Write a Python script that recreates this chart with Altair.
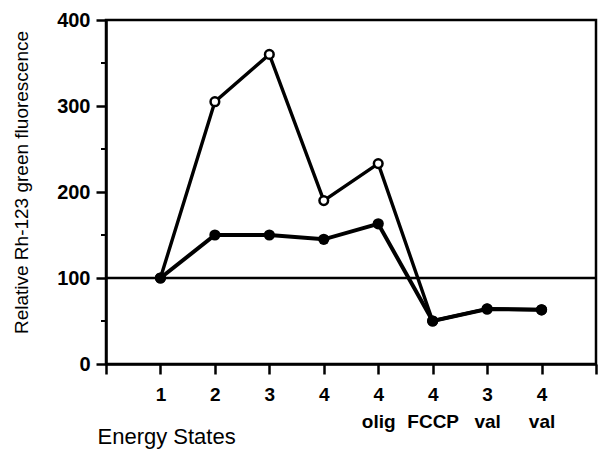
import altair as alt
import pandas as pd

x_pos = [1, 2, 3, 4, 5, 6, 7, 8]
tick_labels = ["1", "2", "3", "4", "4|olig", "4|FCCP", "3|val", "4|val"]
open_vals = [100, 305, 360, 190, 233, 50, 64, 63]
filled_vals = [100, 150, 150, 145, 163, 50, 64, 63]
ref_value = [100]
minor_ticks = [50, 150, 250, 350]

df_open = pd.DataFrame({"x": x_pos, "y": open_vals})
df_filled = pd.DataFrame({"x": x_pos, "y": filled_vals})
df_ref = pd.DataFrame({"y": ref_value})
df_minor = pd.DataFrame({"y": minor_ticks})

FONT = "Liberation Sans"

arr = "[" + ",".join("'" + t + "'" for t in tick_labels) + "]"
label_expr = f"datum.value >= 1 && datum.value <= 8 ? split({arr}[datum.value - 1], '|') : ''"

xscale = alt.Scale(domain=[0, 9], nice=False, zero=False)
yscale = alt.Scale(domain=[0, 400], nice=False)

xaxis = alt.Axis(
    values=list(range(0, 10)),
    labelExpr=label_expr,
    title="Energy States",
    titleFont=FONT, titleFontSize=22, titleFontWeight="normal",
    titleAnchor="start", titleAlign="left", titleBaseline="middle",
    titleX=-9, titleY=72,
    labelFont=FONT, labelFontSize=19, labelFontWeight="bold",
    labelLineHeight=27, labelPadding=11, labelBaseline="top",
    tickSize=10, tickWidth=2.5, tickColor="black",
    domainColor="black", domainWidth=2.5,
    grid=False, labelColor="black", titleColor="black",
)
yaxis = alt.Axis(
    values=[0, 100, 200, 300, 400],
    title="Relative Rh-123 green fluorescence",
    titleFont=FONT, titleFontSize=19, titleFontWeight="normal",
    titleAngle=-90, titleAlign="center", titleBaseline="middle",
    titleX=-85, titleY=162,
    labelFont=FONT, labelFontSize=20, labelFontWeight="bold",
    labelPadding=6,
    tickSize=10, tickWidth=2.5, tickColor="black",
    domainColor="black", domainWidth=2.5,
    grid=False, labelColor="black", titleColor="black",
)

base_x = alt.X("x:Q", scale=xscale, axis=xaxis)
base_y = alt.Y("y:Q", scale=yscale, axis=yaxis)

ref = alt.Chart(df_ref).mark_rule(color="black", strokeWidth=2.5).encode(
    y=alt.Y("y:Q", scale=yscale)
)
minor = alt.Chart(df_minor).mark_rule(color="black", strokeWidth=2).encode(
    y=alt.Y("y:Q", scale=yscale), x=alt.value(-5), x2=alt.value(0)
)

open_line = alt.Chart(df_open).mark_line(color="black", strokeWidth=3.4).encode(
    x=base_x, y=base_y
)
open_pts = alt.Chart(df_open).mark_point(
    shape="circle", filled=True, fill="white", stroke="black", strokeWidth=2.5, size=75, opacity=1
).encode(x=alt.X("x:Q", scale=xscale), y=alt.Y("y:Q", scale=yscale))

filled_line = alt.Chart(df_filled).mark_line(color="black", strokeWidth=4).encode(
    x=alt.X("x:Q", scale=xscale), y=alt.Y("y:Q", scale=yscale)
)
filled_pts = alt.Chart(df_filled).mark_point(
    shape="circle", filled=True, color="black", size=125, opacity=1
).encode(x=alt.X("x:Q", scale=xscale), y=alt.Y("y:Q", scale=yscale))

chart = alt.layer(ref, minor, open_line, filled_line, open_pts, filled_pts).properties(
    width=490, height=344,
    autosize=alt.AutoSizeParams(type="none"),
    padding={"left": 106, "top": 20, "right": 2, "bottom": 88},
    background="white",
).configure_view(stroke="black", strokeWidth=2.5)

chart.save("out.html", embed_options={"renderer": "svg", "actions": False})
